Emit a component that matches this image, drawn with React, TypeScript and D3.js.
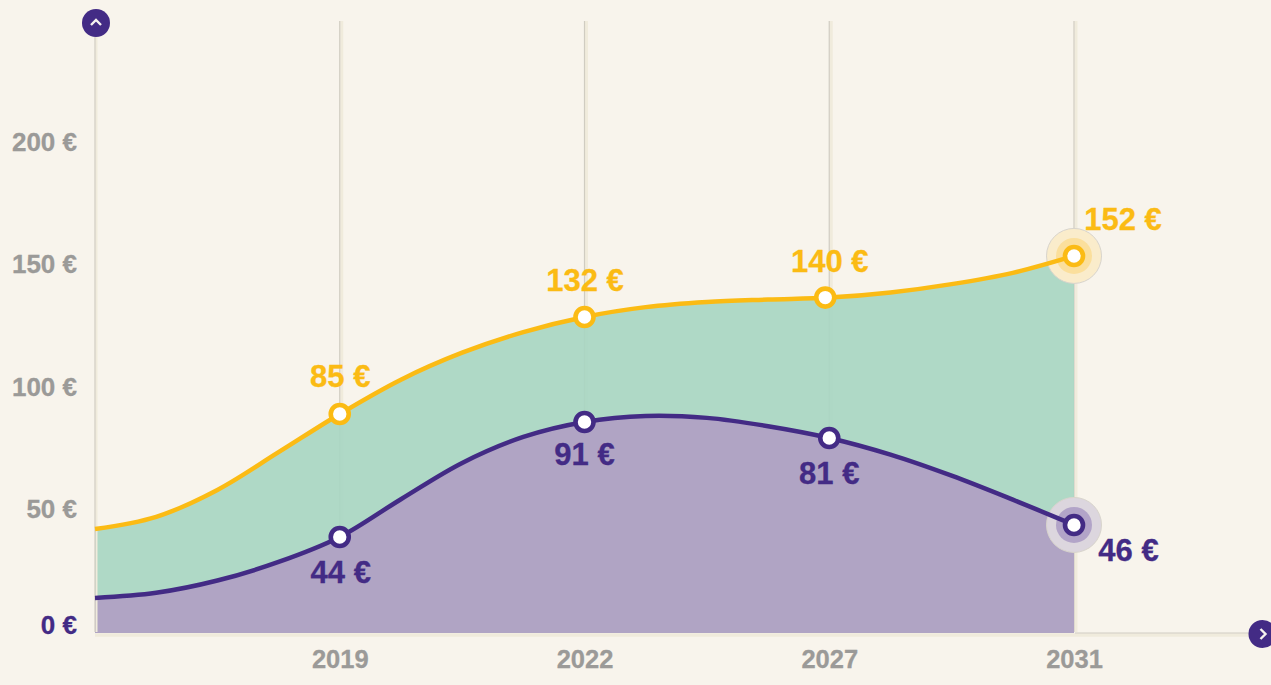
import React, { useEffect, useRef } from "react";
import * as d3 from "d3";

const years = ["2019", "2022", "2027", "2031"];
const yTicks = [0, 50, 100, 150, 200];

// curves every quarter step (0 = y axis, 1 = 2019, ... 4 = 2031)
const steps = [0, 0.25, 0.5, 0.75, 1, 1.25, 1.5, 1.75, 2, 2.25, 2.5, 2.75, 3, 3.25, 3.5, 3.75, 4];
const yellowValues = [42, 47, 58, 73.4, 89, 103, 114, 122.4, 128.6, 132.6, 134.7, 135.7, 136.5, 138.6, 142, 146.6, 153.5];
const purpleValues = [13.9, 16, 21, 28.6, 38.8, 54.2, 69, 79.6, 85.7, 88.2, 87.4, 84, 79.2, 72.4, 63.8, 54, 43.7];

const yellowLabels = [85, 132, 140, 152];
const purpleLabels = [44, 91, 81, 46];

const BG = "#f8f4ec";
const YELLOW = "#fbbb14";
const PURPLE = "#432b85";
const GREY = "#9b9a98";
const CREAM = "#f0ebdc";
const FONT = "'Liberation Sans', Arial, sans-serif";

const App = () => {
    const ref = useRef<SVGSVGElement>(null);

    useEffect(() => {
        const svg = d3.select(ref.current);
        svg.selectAll("*").remove();

        const x = d3.scaleLinear().domain([0, 4]).range([95, 1074]);
        const y = d3.scaleLinear().domain([0, 200]).range([632, 142]);
        const yBottom = y(0);

        const yellowPts: [number, number][] = steps.map((s, i) => [s, yellowValues[i]]);
        const purplePts: [number, number][] = steps.map((s, i) => [s, purpleValues[i]]);
        const curve = d3.curveCatmullRom.alpha(0.5);
        const line = d3.line<[number, number]>().x(d => x(d[0])).y(d => y(d[1])).curve(curve);
        const area = d3.area<[number, number]>().x(d => x(d[0])).y0(yBottom + 1).y1(d => y(d[1])).curve(curve);

        const gridLine = (g: any, gx: number, band: number) => {
            g.append("line").attr("x1", gx + 0.5 + band / 2).attr("x2", gx + 0.5 + band / 2).attr("y1", 21).attr("y2", yBottom)
                .attr("stroke", CREAM).attr("stroke-width", band);
            g.append("line").attr("x1", gx).attr("x2", gx).attr("y1", 21).attr("y2", yBottom)
                .attr("stroke", "#d0ccc1").attr("stroke-width", 1.2);
        };

        // grid lines behind the areas
        const grid = svg.append("g");
        [1, 2, 3, 4].forEach(i => gridLine(grid, x(i), 3));

        // areas
        svg.append("path").attr("d", area(yellowPts)).attr("fill", "#a8d6c2").attr("fill-opacity", 0.92);
        svg.append("path").attr("d", area(purplePts)).attr("fill", "#b0a0c4").attr("fill-opacity", 0.94);

        // y axis line and baseline sit on top of the areas
        gridLine(svg.append("g"), 95, 2);
        svg.append("line").attr("x1", 95).attr("x2", 1262).attr("y1", yBottom + 3).attr("y2", yBottom + 3)
            .attr("stroke", CREAM).attr("stroke-width", 3.4);
        svg.append("line").attr("x1", 1075).attr("x2", 1262).attr("y1", yBottom + 1).attr("y2", yBottom + 1)
            .attr("stroke", "#d0ccc1").attr("stroke-width", 1.2);

        // halos on the last points
        const last = steps.length - 1;
        const halo = (v: number, outer: string, mid: string) => {
            const g = svg.append("g").attr("transform", `translate(${x(4)},${y(v)})`);
            g.append("circle").attr("r", 27.5).attr("fill", outer).attr("stroke", "#d8d4cc").attr("stroke-width", 1);
            g.append("circle").attr("r", 18).attr("fill", mid);
        };
        halo(yellowValues[last], "#faeccb", "#fbdf9c");
        halo(purpleValues[last], "#dcd6de", "#b2a4c8");

        // lines
        svg.append("path").attr("d", line(yellowPts)).attr("fill", "none").attr("stroke", YELLOW).attr("stroke-width", 4.5);
        svg.append("path").attr("d", line(purplePts)).attr("fill", "none").attr("stroke", PURPLE).attr("stroke-width", 4.5);

        // dots
        const dots = (vals: number[], color: string, shift: number[]) => {
            [1, 2, 3, 4].forEach((s, i) => {
                svg.append("circle").attr("cx", x(s) + shift[i]).attr("cy", y(vals[steps.indexOf(s)]))
                    .attr("r", 9).attr("fill", "#fff").attr("stroke", color).attr("stroke-width", 4.6);
            });
        };
        dots(yellowValues, YELLOW, [0, 0, -4, 0]);
        dots(purpleValues, PURPLE, [0, 0, 0, 0]);

        // value labels
        const valueLabel = (t: number, lx: number, ly: number, color: string) => {
            svg.append("text").attr("x", lx).attr("y", ly).attr("text-anchor", "middle")
                .attr("font-family", FONT).attr("font-weight", 700).attr("font-size", 31)
                .attr("fill", color).attr("stroke", color).attr("stroke-width", 0.3).text(`${t} €`);
        };
        const yOffsets = [-27, -26, -26, -26];
        const yDx = [0.5, 0.5, 0.5, 49];
        yellowLabels.forEach((t, i) => valueLabel(t, x(i + 1) + yDx[i], y(yellowValues[(i + 1) * 4]) + yOffsets[i], YELLOW));
        const pOffsets = [46, 43, 46, 36];
        const pDx = [1, 0, 0, 54.5];
        purpleLabels.forEach((t, i) => valueLabel(t, x(i + 1) + pDx[i], y(purpleValues[(i + 1) * 4]) + pOffsets[i], PURPLE));

        // y axis labels
        const yAxis = d3.axisLeft(y).tickValues(yTicks).tickSize(0).tickPadding(18).tickFormat(d => `${d} €`);
        const yG = svg.append("g").attr("transform", "translate(95,0)").call(yAxis);
        yG.select(".domain").remove();
        yG.selectAll("text").attr("font-family", FONT).attr("font-weight", 700).attr("font-size", 26)
            .attr("fill", (d: any) => (d === 0 ? PURPLE : GREY))
            .attr("stroke", (d: any) => (d === 0 ? PURPLE : GREY)).attr("stroke-width", 0.3)
            .attr("dy", (d: any) => (d === 0 ? "0.05em" : "0.32em"));

        // x axis labels
        const xAxis = d3.axisBottom(x).tickValues([1, 2, 3, 4]).tickSize(0).tickPadding(18)
            .tickFormat((d: any) => years[d - 1]);
        const xG = svg.append("g").attr("transform", `translate(0,${yBottom})`).call(xAxis);
        xG.select(".domain").remove();
        xG.selectAll("text").attr("font-family", FONT).attr("font-weight", 700).attr("font-size", 25.5)
            .attr("fill", GREY).attr("stroke", GREY).attr("stroke-width", 0.3);

        // arrow buttons at the axis ends
        const button = (cx: number, cy: number, d: string) => {
            svg.append("circle").attr("cx", cx).attr("cy", cy).attr("r", 14).attr("fill", PURPLE);
            svg.append("path").attr("transform", `translate(${cx},${cy})`).attr("d", d)
                .attr("fill", "none").attr("stroke", "#f5f1ee").attr("stroke-width", 2.4);
        };
        button(96, 23, "M-5,2 L0,-3 L5,2");
        button(1262.5, 634, "M-2,-5 L3,0 L-2,5");
    }, []);

    return (
        <svg ref={ref} width={1271} height={685}
            style={{ position: "absolute", left: 0, top: 0, display: "block", background: BG }} />
    );
};

export default App;
